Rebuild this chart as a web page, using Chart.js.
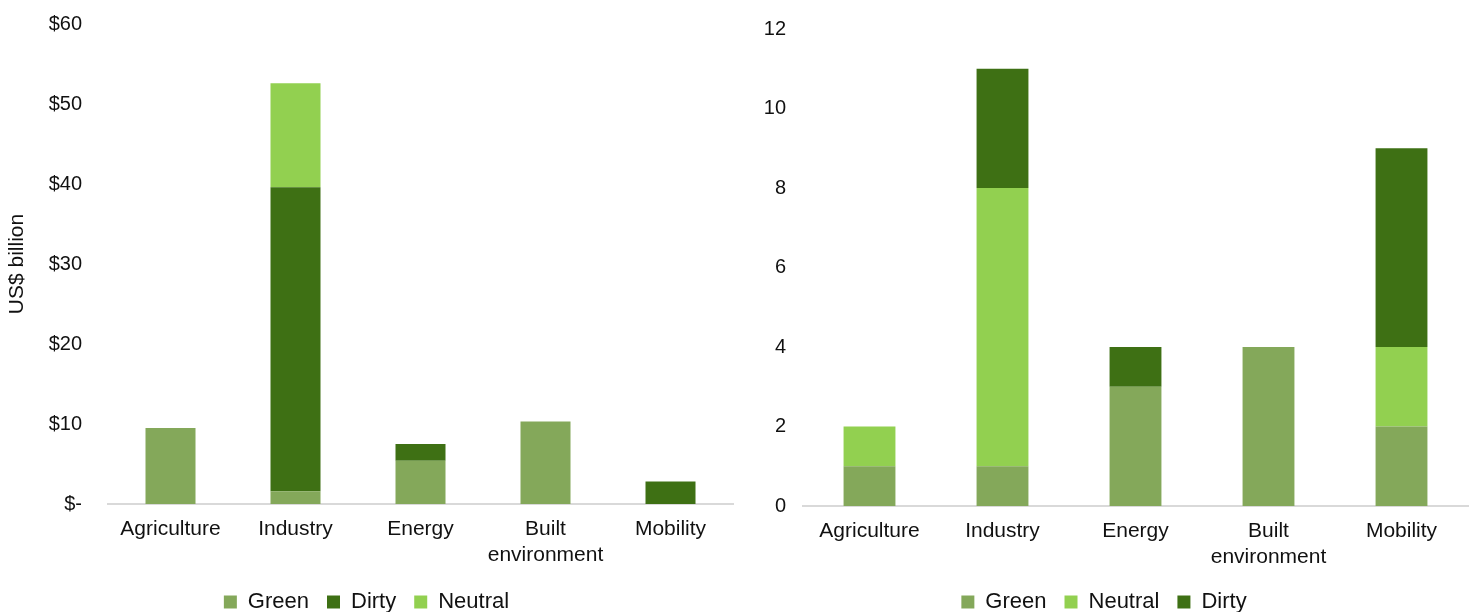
<!DOCTYPE html>
<html>
<head>
<meta charset="utf-8">
<script src="https://cdn.jsdelivr.net/npm/chart.js@4.4.1/dist/chart.umd.min.js"></script>
<style>
  html, body { margin: 0; padding: 0; background: #fff; overflow: hidden; }
  .box { position: absolute; top: 0; height: 623px; }
  #leftBox { left: 0; width: 740px; }
  #rightBox { left: 740px; width: 735px; }
</style>
</head>
<body>
<div class="box" id="leftBox"><canvas id="leftChart"></canvas></div>
<div class="box" id="rightBox"><canvas id="rightChart"></canvas></div>
<script>
// categories shared by both panels
const CATEGORIES = ['Agriculture', 'Industry', 'Energy', ['Built', 'environment'], 'Mobility'];

// left panel: US$ billion
const USD_GREEN   = [9.5, 1.6, 5.4, 10.3, 0];
const USD_DIRTY   = [0, 38, 2.1, 0, 2.8];
const USD_NEUTRAL = [0, 13, 0, 0, 0];
const USD_TICKS   = ['$-', '$10', '$20', '$30', '$40', '$50', '$60'];

// right panel: number of deals
const COUNT_GREEN   = [1, 1, 3, 4, 2];
const COUNT_NEUTRAL = [1, 7, 0, 0, 2];
const COUNT_DIRTY   = [0, 3, 1, 0, 5];
const COUNT_TICKS   = ['0', '2', '4', '6', '8', '10', '12'];

const COLORS = { green: '#84a85a', dirty: '#3e7014', neutral: '#92d050' };
const FONT = "'Liberation Sans', Arial, sans-serif";
const TEXT = '#111';

function makeChart(canvasId, o) {
  const canvas = document.getElementById(canvasId);
  return new Chart(canvas, {
    type: 'bar',
    data: {
      labels: CATEGORIES,
      datasets: o.series.map(s => ({
        label: s.label,
        data: s.data,
        backgroundColor: s.color,
        borderWidth: 0,
        categoryPercentage: 1,
        barPercentage: o.barPct
      }))
    },
    options: {
      responsive: true,
      maintainAspectRatio: false,
      animation: false,
      layout: { padding: { top: o.top, right: 7, left: 0, bottom: 0 } },
      plugins: {
        tooltip: { enabled: false },
        legend: {
          position: 'bottom',
          labels: {
            color: TEXT,
            font: { size: 22, family: FONT },
            boxWidth: 13,
            boxHeight: 13,
            padding: 18
          }
        }
      },
      scales: {
        x: {
          stacked: true,
          grid: { display: false, drawTicks: false },
          border: { display: true, color: '#d9d9d9', width: 2 },
          ticks: { color: TEXT, font: { size: 21, family: FONT }, padding: 13, maxRotation: 0 },
          afterFit: s => { s.height = o.xHeight; }
        },
        y: {
          stacked: true,
          min: 0,
          max: o.max,
          grid: { display: false, drawTicks: false },
          border: { display: false },
          ticks: {
            stepSize: o.step,
            color: TEXT,
            font: { size: 20, family: FONT },
            padding: o.tickPad,
            callback: v => o.ticks[Math.round(v / o.step)]
          },
          title: o.title ? {
            display: true,
            text: o.title,
            color: TEXT,
            font: { size: 21, family: FONT },
            padding: { top: 5, bottom: 0 }
          } : { display: false },
          afterFit: s => {
            s.width = o.yWidth;
            // tick padding would otherwise push the plot top down
            s.paddingTop = 0;
            s.paddingBottom = 0;
          }
        }
      }
    }
  });
}

makeChart('leftChart', {
  series: [
    { label: 'Green', data: USD_GREEN, color: COLORS.green },
    { label: 'Dirty', data: USD_DIRTY, color: COLORS.dirty },
    { label: 'Neutral', data: USD_NEUTRAL, color: COLORS.neutral }
  ],
  max: 60, step: 10, ticks: USD_TICKS,
  title: 'US$ billion',
  top: 24, xHeight: 69, yWidth: 108, tickPad: 26, barPct: 0.4
});

makeChart('rightChart', {
  series: [
    { label: 'Green', data: COUNT_GREEN, color: COLORS.green },
    { label: 'Neutral', data: COUNT_NEUTRAL, color: COLORS.neutral },
    { label: 'Dirty', data: COUNT_DIRTY, color: COLORS.dirty }
  ],
  max: 12, step: 2, ticks: COUNT_TICKS,
  title: null,
  top: 29, xHeight: 67, yWidth: 63, tickPad: 17, barPct: 0.39
});
</script>
</body>
</html>
